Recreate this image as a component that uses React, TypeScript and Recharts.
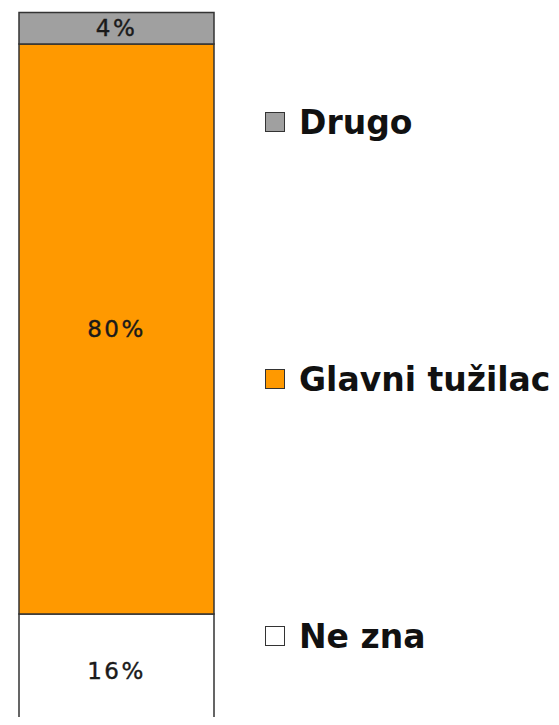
import React from "react";
import { BarChart, Bar, XAxis, YAxis, LabelList } from "recharts";

const categories = ["Odgovor"];
const seriesNames = ["Ne zna", "Glavni tužilac", "Drugo"];
const neZna = [15.8];
const glavniTuzilac = [79.8];
const drugo = [4.4];
const colors = ["#FFFFFF", "#FF9900", "#A0A0A0"];

const data = categories.map((c, i) => ({
  name: c,
  neZna: neZna[i],
  glavni: glavniTuzilac[i],
  drugo: drugo[i],
}));

const keys = ["neZna", "glavni", "drugo"];

const fmt = (v: any) => `${Math.round(Number(v))}%`;

const labelStyle = {
  fill: "#1a1a1a",
  stroke: "#1a1a1a",
  strokeWidth: 0.4,
  fontFamily: "DejaVu Sans, Verdana, sans-serif",
  fontSize: 23,
  letterSpacing: 2.5,
};

const legendTops = [102, 359, 616];

export default function App() {
  const legendItems = seriesNames
    .map((n, i) => ({ name: n, color: colors[i] }))
    .reverse();
  return (
    <div style={{ margin: -8, width: 559, height: 725, overflow: "hidden", position: "relative", background: "#fff" }}>
      <BarChart
        width={559}
        height={740}
        data={data}
        margin={{ top: 12.5, left: 19, right: 345, bottom: 13 }}
        barCategoryGap="0%"
      >
        <XAxis dataKey="name" hide />
        <YAxis hide domain={[0, 100]} />
        {keys.map((k, i) => (
          <Bar
            key={k}
            dataKey={k}
            name={seriesNames[i]}
            stackId="a"
            fill={colors[i]}
            stroke="#333333"
            strokeWidth={1.5}
            isAnimationActive={false}
          >
            <LabelList dataKey={k} position="center" formatter={fmt} style={labelStyle} />
          </Bar>
        ))}
      </BarChart>
      {legendItems.map((it, i) => (
        <div
          key={it.name}
          style={{
            position: "absolute",
            left: 265,
            top: legendTops[i],
            height: 40,
            display: "flex",
            alignItems: "center",
            whiteSpace: "nowrap",
          }}
        >
          <div
            style={{
              width: 18,
              height: 18,
              background: it.color,
              border: "1.5px solid #333",
              marginRight: 14,
            }}
          />
          <span
            style={{
              fontFamily: "DejaVu Sans, Verdana, sans-serif",
              fontWeight: "bold",
              fontSize: 33,
              color: "#111",
            }}
          >
            {it.name}
          </span>
        </div>
      ))}
    </div>
  );
}
